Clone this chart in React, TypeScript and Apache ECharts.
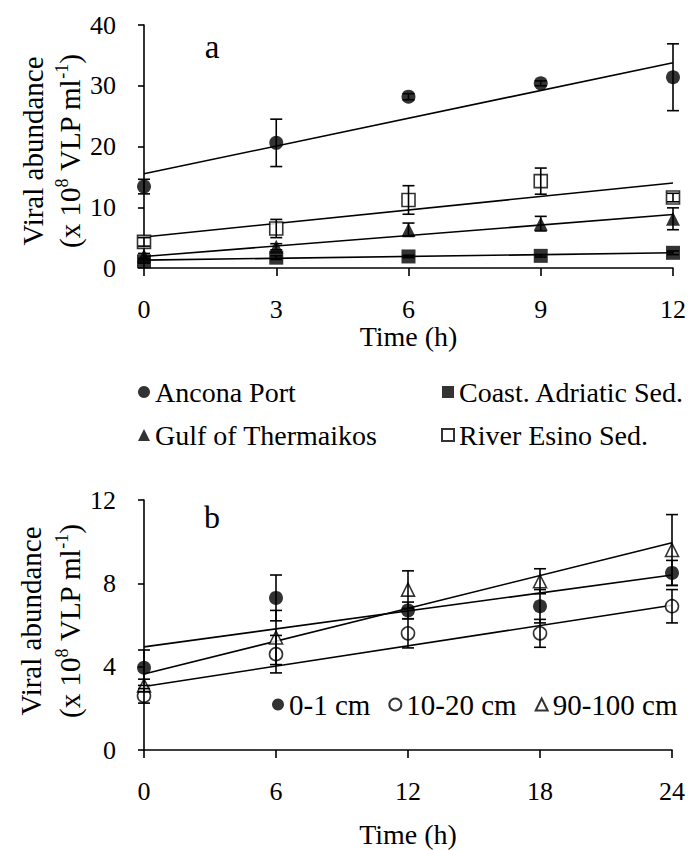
import React, { useEffect, useRef } from 'react';
import * as echarts from 'echarts';

const FONT = "'Liberation Serif', 'Times New Roman', serif";

// Panel a
const timeA = [0, 3, 6, 9, 12];
const ancona = [13.4, 20.6, 28.2, 30.4, 31.4];
const anconaErr = [1.2, 3.9, 0.5, 0.4, 5.5];
const coast = [1.1, 1.7, 1.9, 2.0, 2.5];
const coastErr = [0.3, 0.3, 0.2, 0.2, 0.3];
const thermaikos = [2.0, 3.5, 6.3, 7.3, 8.1];
const thermaikosErr = [0.4, 0.5, 1.1, 1.2, 1.8];
const esino = [4.3, 6.5, 11.2, 14.3, 11.6];
const esinoErr = [0.7, 1.5, 2.35, 2.15, 0.7];
const fitTimeA = [0, 12];
const anconaFit = [15.5, 33.8];
const coastFit = [1.3, 2.5];
const thermaikosFit = [1.9, 8.8];
const esinoFit = [5.1, 14.0];
const yTicksA = { min: 0, max: 40, interval: 10 };
const xTicksA = { min: 0, max: 12, interval: 3 };

// Panel b
const timeB = [0, 6, 12, 18, 24];
const cm0_1 = [3.95, 7.3, 6.7, 6.9, 8.5];
const cm0_1Err = [0.85, 1.1, 0.4, 0.8, 0.6];
const cm10_20 = [2.6, 4.6, 5.6, 5.6, 6.9];
const cm10_20Err = [0.35, 0.9, 0.7, 0.67, 0.8];
const cm90_100 = [3.1, 5.4, 7.7, 8.1, 9.6];
const cm90_100Err = [0.3, 1.3, 0.9, 0.6, 1.7];
const fitTimeB = [0, 24];
const cm0_1Fit = [4.95, 8.4];
const cm10_20Fit = [3.05, 6.95];
const cm90_100Fit = [3.65, 9.95];
const yTicksB = { min: 0, max: 12, interval: 4 };
const xTicksB = { min: 0, max: 24, interval: 6 };

const BLACK = '#000';

function scatterSeries(name: string, xs: number[], ys: number[], symbol: string, filled: boolean, g: number, size: number) {
  return {
    type: 'scatter',
    name,
    xAxisIndex: g,
    yAxisIndex: g,
    data: xs.map((x, i) => [x, ys[i]]),
    symbol,
    symbolSize: size,
    itemStyle: filled
      ? { color: BLACK }
      : { color: '#fff', borderColor: BLACK, borderWidth: 1.6 },
    z: 3,
    silent: true,
  };
}

function errorSeries(xs: number[], ys: number[], errs: number[], g: number) {
  return {
    type: 'custom',
    xAxisIndex: g,
    yAxisIndex: g,
    data: xs.map((x, i) => [x, ys[i] - errs[i], ys[i] + errs[i]]),
    encode: { x: 0, y: [1, 2] },
    z: 4,
    silent: true,
    renderItem: (params: any, api: any) => {
      const x = api.value(0);
      const lo = api.coord([x, api.value(1)]);
      const hi = api.coord([x, api.value(2)]);
      const w = 6;
      const st = { stroke: BLACK, lineWidth: 1.6 };
      return {
        type: 'group',
        children: [
          { type: 'line', shape: { x1: lo[0], y1: lo[1], x2: hi[0], y2: hi[1] }, style: st },
          { type: 'line', shape: { x1: lo[0] - w, y1: lo[1], x2: lo[0] + w, y2: lo[1] }, style: st },
          { type: 'line', shape: { x1: hi[0] - w, y1: hi[1], x2: hi[0] + w, y2: hi[1] }, style: st },
        ],
      };
    },
  };
}

function fitSeries(xs: number[], ys: number[], g: number) {
  return {
    type: 'line',
    xAxisIndex: g,
    yAxisIndex: g,
    data: xs.map((x, i) => [x, ys[i]]),
    symbol: 'none',
    lineStyle: { color: BLACK, width: 1.6 },
    z: 2,
    silent: true,
  };
}

const axisCommon = {
  axisLine: { show: true, onZero: false, lineStyle: { color: BLACK, width: 1.6 } },
  axisTick: { show: true, inside: false, length: 8, lineStyle: { color: BLACK, width: 1.6 } },
  splitLine: { show: false },
  axisLabel: { color: BLACK, fontFamily: FONT, fontSize: 26, margin: 28 },
};

const yNameRich = {
  n: { fontFamily: FONT, fontSize: 29, color: BLACK, lineHeight: 34 },
  s: { fontFamily: FONT, fontSize: 18, color: BLACK, lineHeight: 34, verticalAlign: 'top' },
};

function yName(cx1: number, cx2: number, cy: number) {
  return [
    {
      type: 'text',
      x: cx1,
      y: cy,
      rotation: Math.PI / 2,
      style: {
        text: 'Viral abundance',
        fontFamily: FONT,
        fontSize: 29,
        fill: BLACK,
        align: 'center',
        verticalAlign: 'middle',
      },
    },
    {
      type: 'text',
      x: cx2,
      y: cy,
      rotation: Math.PI / 2,
      style: {
        text: '{n|(x 10}{s|8}{n| VLP ml}{s|-1}{n|)}',
        rich: yNameRich,
        align: 'center',
        verticalAlign: 'middle',
      },
    },
  ];
}

const legendText = { fontFamily: FONT, fontSize: 28, color: BLACK };
const legendTextB = { fontFamily: FONT, fontSize: 29, color: BLACK };
const nameStyle = { fontFamily: FONT, fontSize: 28, color: BLACK };

const option: any = {
  animation: false,
  backgroundColor: '#fff',
  grid: [
    { left: 144, top: 25, width: 529, height: 243 },
    { left: 144, top: 500, width: 528, height: 250 },
  ],
  xAxis: [
    { type: 'value', gridIndex: 0, ...xTicksA, ...axisCommon, name: 'Time (h)', nameLocation: 'middle', nameGap: 53, nameTextStyle: nameStyle },
    { type: 'value', gridIndex: 1, ...xTicksB, ...axisCommon, name: 'Time (h)', nameLocation: 'middle', nameGap: 70, nameTextStyle: nameStyle },
  ],
  yAxis: [
    { type: 'value', gridIndex: 0, ...yTicksA, ...axisCommon, axisTick: { ...axisCommon.axisTick, length: 6 } },
    { type: 'value', gridIndex: 1, ...yTicksB, ...axisCommon, axisTick: { ...axisCommon.axisTick, length: 6 } },
  ],
  legend: [
    {
      data: ['Ancona Port', 'Gulf of Thermaikos'],
      orient: 'vertical',
      left: 133,
      top: 373,
      itemWidth: 12,
      itemHeight: 12,
      itemGap: 15,
      textStyle: legendText,
      selectedMode: false,
    },
    {
      data: ['Coast. Adriatic Sed.', 'River Esino Sed.'],
      orient: 'vertical',
      left: 436,
      top: 373,
      itemWidth: 12,
      itemHeight: 12,
      itemGap: 15,
      textStyle: legendText,
      selectedMode: false,
    },
    {
      data: ['0-1 cm', '10-20 cm', '90-100 cm'],
      orient: 'horizontal',
      left: 267,
      top: 685,
      itemWidth: 12,
      itemHeight: 12,
      itemGap: 18,
      textStyle: legendTextB,
      selectedMode: false,
    },
  ],
  graphic: [
    ...yName(33, 70, 151),
    ...yName(31, 70, 621),
    { type: 'text', x: 212, y: 47, style: { text: 'a', fontFamily: FONT, fontSize: 33, fill: BLACK, align: 'center', verticalAlign: 'middle' } },
    { type: 'text', x: 212, y: 517, style: { text: 'b', fontFamily: FONT, fontSize: 32, fill: BLACK, align: 'center', verticalAlign: 'middle' } },
  ],
  series: [
    fitSeries(fitTimeA, anconaFit, 0),
    fitSeries(fitTimeA, coastFit, 0),
    fitSeries(fitTimeA, thermaikosFit, 0),
    fitSeries(fitTimeA, esinoFit, 0),
    scatterSeries('Ancona Port', timeA, ancona, 'circle', true, 0, 14),
    scatterSeries('Coast. Adriatic Sed.', timeA, coast, 'rect', true, 0, 14),
    scatterSeries('Gulf of Thermaikos', timeA, thermaikos, 'triangle', true, 0, 14),
    scatterSeries('River Esino Sed.', timeA, esino, 'rect', false, 0, 13),
    errorSeries(timeA, ancona, anconaErr, 0),
    errorSeries(timeA, coast, coastErr, 0),
    errorSeries(timeA, thermaikos, thermaikosErr, 0),
    errorSeries(timeA, esino, esinoErr, 0),
    fitSeries(fitTimeB, cm0_1Fit, 1),
    fitSeries(fitTimeB, cm10_20Fit, 1),
    fitSeries(fitTimeB, cm90_100Fit, 1),
    scatterSeries('0-1 cm', timeB, cm0_1, 'circle', true, 1, 14),
    scatterSeries('10-20 cm', timeB, cm10_20, 'circle', false, 1, 13),
    scatterSeries('90-100 cm', timeB, cm90_100, 'triangle', false, 1, 13),
    errorSeries(timeB, cm0_1, cm0_1Err, 1),
    errorSeries(timeB, cm10_20, cm10_20Err, 1),
    errorSeries(timeB, cm90_100, cm90_100Err, 1),
  ],
};

export default function App() {
  const ref = useRef<HTMLDivElement>(null);
  useEffect(() => {
    const chart = echarts.init(ref.current as HTMLDivElement, null, { renderer: 'svg' });
    chart.setOption(option);
    return () => chart.dispose();
  }, []);
  return (
    <div
      ref={ref}
      style={{ position: 'absolute', left: 0, top: 0, width: 689, height: 850, background: '#fff' }}
    />
  );
}
